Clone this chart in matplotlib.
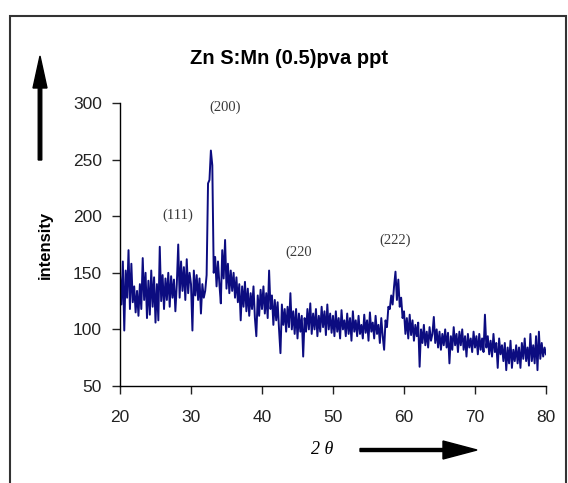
import matplotlib
matplotlib.use("Agg")
import matplotlib.pyplot as plt
from matplotlib.patches import FancyArrow, Rectangle

# XRD scan, 2-theta from 20 to 80 deg in 0.2 deg steps
theta_start, theta_step = 20.0, 0.2
intensity = [
    148, 122, 160, 99, 152, 128, 170, 118, 158, 124,   # 20.0
    138, 115, 134, 112, 140, 118, 163, 126, 150, 110,   # 22.0
    143, 113, 152, 120, 146, 106, 140, 108, 173, 125,   # 24.0
    148, 118, 145, 126, 150, 120, 147, 128, 144, 116,   # 26.0
    140, 175, 128, 160, 134, 155, 126, 162, 132, 150,   # 28.0
    140, 99, 152, 130, 148, 126, 145, 114, 140, 128,    # 30.0
    134, 148, 229, 232, 258, 245, 150, 164, 138, 160,   # 32.0
    140, 123, 170, 145, 179, 136, 158, 132, 152, 134,   # 34.0
    150, 128, 146, 124, 140, 108, 138, 120, 142, 116,   # 36.0
    136, 112, 132, 118, 138, 110, 94, 130, 112, 135,    # 38.0
    118, 138, 114, 132, 110, 152, 118, 130, 104, 126,   # 40.0
    108, 124, 100, 79, 122, 104, 118, 98, 120, 102,     # 42.0
    132, 100, 116, 96, 118, 92, 114, 98, 112, 76,       # 44.0
    110, 98, 118, 100, 123, 96, 114, 100, 118, 94,      # 46.0
    112, 98, 120, 102, 116, 95, 122, 100, 114, 97,      # 48.0
    112, 94, 116, 98, 110, 92, 117, 100, 108, 94,       # 50.0
    114, 96, 110, 90, 116, 98, 108, 94, 112, 96,        # 52.0
    104, 92, 113, 97, 108, 90, 115, 98, 106, 92,        # 54.0
    112, 96, 104, 88, 110, 94, 82, 108, 102, 120,       # 56.0
    118, 130, 122, 138, 151, 126, 144, 120, 128, 110,   # 58.0
    116, 96, 110, 92, 113, 95, 108, 90, 104, 94,        # 60.0
    106, 67, 100, 88, 104, 86, 98, 84, 102, 90,         # 62.0
    96, 111, 88, 100, 84, 98, 82, 96, 86, 100,          # 64.0
    84, 97, 70, 94, 82, 102, 86, 96, 80, 98,            # 66.0
    86, 100, 82, 94, 76, 96, 84, 92, 80, 98,            # 68.0
    84, 94, 78, 96, 82, 92, 80, 113, 84, 94,            # 70.0
    78, 90, 76, 96, 80, 88, 66, 92, 78, 86,             # 72.0
    72, 88, 64, 84, 70, 90, 66, 82, 72, 86,             # 74.0
    70, 84, 66, 88, 74, 92, 72, 84, 68, 96,             # 76.0
    72, 86, 70, 94, 64, 98, 74, 88, 76, 84,             # 78.0
    78,                                                 # 80.0
]
two_theta = [round(theta_start + i * theta_step, 1) for i in range(len(intensity))]

x_ticks = [20, 30, 40, 50, 60, 70, 80]
y_ticks = [50, 100, 150, 200, 250, 300]

# Miller index labels: (text, 2theta, intensity)
peak_labels = [
    ("(111)", 28.2, 201),
    ("(200)", 34.8, 296),
    ("(220", 45.1, 168),
    ("(222)", 58.8, 179),
]

title = "Zn S:Mn (0.5)pva ppt"
line_color = "#0c0c80"

fig = plt.figure(figsize=(5.68, 4.83), dpi=100)
W, H = 568, 483

# outer chart frame
fig.patches.append(Rectangle((10 / W, -0.05), (566 - 10) / W, 1.05 - 16 / H,
                             transform=fig.transFigure, fill=False,
                             edgecolor="#333333", linewidth=1.5))

ax = fig.add_axes([120 / W, 1 - 386 / H, (546 - 120) / W, (386 - 103) / H])
ax.plot(two_theta, intensity, color=line_color, linewidth=1.4)
ax.set_xlim(20, 80)
ax.set_ylim(50, 300)
ax.set_xticks(x_ticks)
ax.set_yticks(y_ticks)
for side in ("top", "right"):
    ax.spines[side].set_visible(False)
for side in ("left", "bottom"):
    ax.spines[side].set_linewidth(1.0)
ax.tick_params(direction="out", length=6, width=1.0, labelsize=12.5, colors="#222222")
ax.tick_params(axis="y", pad=7)
ax.tick_params(axis="x", pad=11)
for lbl in ax.get_xticklabels() + ax.get_yticklabels():
    lbl.set_family("Liberation Sans")

for text, x, y in peak_labels:
    ax.text(x, y, text, ha="center", va="center", fontsize=10.5,
            family="Liberation Serif", color="#3a3a3a", clip_on=False)

fig.text(289 / W, 1 - 58 / H, title, ha="center", va="center",
         fontsize=14.5, fontweight="bold", family="Liberation Sans")
fig.text(45 / W, 1 - 245 / H, "intensity", ha="center", va="center",
         rotation=90, fontsize=12, fontweight="bold", family="Liberation Sans")
fig.text(322 / W, 1 - 450 / H, "2 θ", ha="center", va="center",
         fontsize=13, style="italic", family="Liberation Serif")

# hand-drawn style axis arrows
fig.patches.append(FancyArrow(40 / W, 1 - 160 / H, 0, (160 - 56) / H,
                              width=3 / H, head_width=14 / W, head_length=32 / H,
                              length_includes_head=True, transform=fig.transFigure,
                              color="black"))
fig.patches.append(FancyArrow(360 / W, 1 - 450 / H, (477 - 360) / W, 0,
                              width=3 / H, head_width=18 / H, head_length=34 / W,
                              length_includes_head=True, transform=fig.transFigure,
                              color="black"))

fig.savefig("out.png", dpi=100)
